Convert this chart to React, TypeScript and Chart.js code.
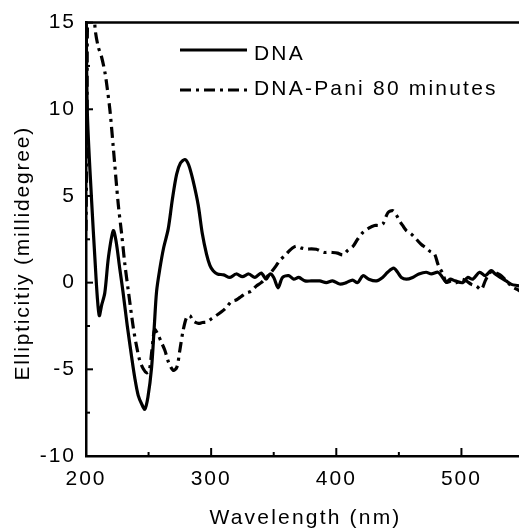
import React, { useEffect, useRef } from "react";
import { Chart, registerables } from "chart.js";

Chart.register(...registerables);

const seriesNames = ["DNA", "DNA-Pani 80 minutes"];

const dnaWavelength = [
  200, 201, 204.5, 207.2, 209, 210.6, 212.5, 215, 218, 221.8, 224, 227, 229.5, 233, 236.5, 239, 241.7, 244.5,
  247, 249.5, 252.4, 254.5, 256.4, 259, 262, 265.7, 269, 272.4, 275.5, 279, 282, 285.5, 289.6, 293, 296.3, 299,
  301.6, 305, 310, 315, 320, 325, 330, 335, 340, 344, 347, 350, 353.5, 357, 362, 366, 370, 375, 380, 386.7, 392,
  397, 402.7, 408, 413, 417, 421.3, 426, 432, 437, 441, 445.8, 449, 452, 456, 461, 466, 471.8, 476, 481.2, 484,
  487.9, 491, 495, 501, 505, 509, 514.5, 519, 523.8, 527, 531, 535.7, 540, 545, 547,
];
const dnaEllipticity = [
  18, 10, 4.7, 1.3, -0.8, -1.9, -1.3, -0.6, 1.5, 3.0, 2.4, 0.8, -0.5, -2.5, -4.3, -5.5, -6.5, -7.0,
  -7.3, -6.6, -4.9, -2.6, -0.5, 0.8, 2.0, 3.1, 4.8, 6.25, 6.9, 7.1, 6.8, 5.9, 4.5, 2.8, 1.65, 1.0,
  0.69, 0.5, 0.45, 0.3, 0.5, 0.35, 0.5, 0.3, 0.55, 0.2, 0.5, 0.3, -0.3, 0.3, 0.4, 0.2, 0.3, 0.1, 0.1, 0.1, 0.0,
  0.1, -0.08, 0.0, 0.15, 0.0, 0.4, 0.2, 0.1, 0.3, 0.6, 0.84, 0.6, 0.3, 0.2, 0.3, 0.5, 0.6, 0.5, 0.6, 0.4,
  0.02, 0.2, 0.1, 0.0, 0.3, 0.2, 0.6, 0.4, 0.69, 0.5, 0.3, 0.1, -0.1, -0.17, -0.2,
];

const paniWavelength = [
  200, 200.8, 201.5, 204, 206.5, 207.5, 209.8, 212.5, 215.2, 217, 219.2, 221.8, 225.8, 228.5, 231, 233.8, 237.8,
  240.5, 243, 246, 248.4, 250.5, 252.5, 254, 255, 257.5, 260, 263, 266, 269.7, 272.5, 275, 277.5, 280.4, 283,
  285.6, 290, 293, 296.3, 300, 304, 308, 312, 316, 320, 324, 328, 332, 336, 340, 344, 348, 352, 355, 358.8, 362,
  365, 368, 372, 376, 380, 384, 388, 390.7, 394, 397, 401, 405.4, 409, 413.4, 417, 421.3, 426, 430.6, 434, 437.3,
  441.3, 445.3, 448, 450.6, 453, 456, 460, 464, 468, 471.8, 475, 478.5, 481.2, 483, 485.2, 487.9, 492, 496, 500,
  503.8, 508, 512, 515.8, 519, 522, 525, 528, 531.8, 536, 541, 545, 547,
];
const paniEllipticity = [
  3, 9, 16, 17, 15.5, 14.5, 13.6, 13.0, 12.1, 11.2, 9.9, 7.8, 4.5, 2.8, 1.1, -0.46, -2.6,
  -3.7, -4.5, -5.0, -5.2, -5.1, -4.0, -3.0, -2.7, -3.0, -3.4, -3.9, -4.6, -5.06, -4.9, -3.9, -2.8, -2.0, -1.9,
  -2.2, -2.35, -2.3, -2.28, -2.1, -1.9, -1.7, -1.45, -1.1, -1.0, -0.8, -0.6, -0.5, -0.2, 0.0, 0.3, 0.6, 0.98, 1.3, 1.55, 1.8,
  2.0, 2.1, 2.0, 1.93, 1.95, 1.93, 1.8, 1.74, 1.75, 1.74, 1.7, 1.6, 1.85, 2.1, 2.5, 2.9, 3.15, 3.3, 3.3, 3.4,
  4.04, 4.15, 3.9, 3.56, 3.3, 3.0, 2.8, 2.5, 2.2, 2.0, 1.8, 1.65, 1.07, 0.8, 0.5, 0.02, 0.1, 0.0, 0.2,
  0.1, -0.1, -0.2, -0.4, 0.1, 0.5, 0.69, 0.55, 0.4, 0.1, -0.27, -0.4, -0.5,
];

const xMin = 200;
const xMax = 546;
const yMin = -10;
const yMax = 15;
const xLabelStep = 100;
const yLabelStep = 5;

const FONT = "'Liberation Sans', Arial, Helvetica, sans-serif";
const PANI_DASH = [11, 5, 3, 5];

const toPoints = (xs: number[], ys: number[]) => xs.map((x, i) => ({ x, y: ys[i] }));

function wrap(scale: any, method: string, spacing: string, dx: number, dy: number) {
  const orig = scale[method];
  if (!orig || orig.__wrapped) return;
  const fn = function (this: any, ...args: any[]) {
    const ctx = this.ctx;
    ctx.save();
    ctx.letterSpacing = spacing;
    ctx.translate(dx, dy);
    const r = orig.apply(this, args);
    ctx.restore();
    return r;
  };
  (fn as any).__wrapped = true;
  scale[method] = fn;
}

const framePlugin = {
  id: "frame",
  beforeDraw(chart: any) {
    const xs = chart.scales.x;
    const ys = chart.scales.y;
    wrap(xs, "drawLabels", "2px", 0, 0);
    wrap(ys, "drawLabels", "2px", 0, 0);
    wrap(xs, "drawTitle", "2.2px", 3, 3);
    wrap(ys, "drawTitle", "1.8px", 0, 14);
  },
  afterDraw(chart: any) {
    const ctx = chart.ctx;
    const { left, right, top, bottom } = chart.chartArea;
    const xs = chart.scales.x;
    const ys = chart.scales.y;
    ctx.save();
    ctx.strokeStyle = "#000";
    ctx.lineWidth = 2.5;
    ctx.beginPath();
    ctx.moveTo(left - 1, top);
    ctx.lineTo(right, top);
    ctx.stroke();
    ctx.lineWidth = 2;
    xs.ticks.forEach((t: any) => {
      const px = xs.getPixelForValue(t.value);
      const len = t.value % xLabelStep === 0 ? 8 : 4;
      ctx.beginPath();
      ctx.moveTo(px, bottom);
      ctx.lineTo(px, bottom - len);
      ctx.stroke();
    });
    ys.ticks.forEach((t: any) => {
      const py = ys.getPixelForValue(t.value);
      const len = t.value % yLabelStep === 0 ? 7 : 4;
      ctx.beginPath();
      ctx.moveTo(left, py);
      ctx.lineTo(left + len, py);
      ctx.stroke();
    });

    // legend
    const items = [
      { dash: [] as number[], lineY: 50, textY: 60 },
      { dash: PANI_DASH, lineY: 90, textY: 95 },
    ];
    ctx.letterSpacing = "2.2px";
    ctx.font = `21px ${FONT}`;
    ctx.fillStyle = "#000";
    ctx.textBaseline = "alphabetic";
    ctx.textAlign = "left";
    items.forEach((it, i) => {
      ctx.lineWidth = 3.2;
      ctx.setLineDash(it.dash);
      ctx.beginPath();
      ctx.moveTo(180, it.lineY);
      ctx.lineTo(247, it.lineY);
      ctx.stroke();
      ctx.setLineDash([]);
      ctx.fillText(seriesNames[i], 254, it.textY);
    });
    ctx.restore();
  },
};

export default function App() {
  const ref = useRef<HTMLCanvasElement | null>(null);

  useEffect(() => {
    document.body.style.margin = "0";
    const canvas = ref.current;
    if (!canvas) return;
    const chart = new Chart(canvas, {
      type: "line",
      data: {
        datasets: [
          {
            label: seriesNames[0],
            data: toPoints(dnaWavelength, dnaEllipticity),
            borderColor: "#000",
            borderWidth: 3.2,
            pointRadius: 0,
            tension: 0.3,
            fill: false,
          },
          {
            label: seriesNames[1],
            data: toPoints(paniWavelength, paniEllipticity),
            borderColor: "#000",
            borderWidth: 3.2,
            borderDash: PANI_DASH,
            pointRadius: 0,
            tension: 0.3,
            fill: false,
          },
        ],
      },
      options: {
        animation: false,
        responsive: false,
        devicePixelRatio: 1,
        layout: { padding: { top: 21, left: 0, right: 0, bottom: 0 } },
        plugins: { legend: { display: false }, tooltip: { enabled: false } },
        scales: {
          x: {
            type: "linear",
            min: xMin,
            max: xMax,
            grid: { display: false, drawTicks: false },
            border: { display: true, color: "#000", width: 2.5 },
            ticks: {
              stepSize: 50,
              includeBounds: false,
              autoSkip: false,
              maxRotation: 0,
              padding: 11,
              color: "#000",
              font: { family: FONT, size: 21 },
              callback: (v: any) => (Number(v) % xLabelStep === 0 ? String(v) : ""),
            },
            title: {
              display: true,
              text: "Wavelength (nm)",
              color: "#000",
              font: { family: FONT, size: 21 },
              padding: { top: 0, bottom: 2 },
            },
            afterFit: (s: any) => {
              s.height = 74;
            },
          },
          y: {
            type: "linear",
            min: yMin,
            max: yMax,
            grid: { display: false, drawTicks: false },
            border: { display: true, color: "#000", width: 2.5 },
            ticks: {
              stepSize: 2.5,
              autoSkip: false,
              padding: 10,
              color: "#000",
              font: { family: FONT, size: 21 },
              callback: (v: any) => (Number(v) % yLabelStep === 0 ? String(v) : ""),
            },
            title: {
              display: true,
              text: "Ellipticitiy (millidegree)",
              color: "#000",
              font: { family: FONT, size: 21 },
              padding: { top: 11, bottom: 0 },
            },
            afterFit: (s: any) => {
              s.width = 86;
            },
          },
        },
      },
      plugins: [framePlugin],
    });
    return () => chart.destroy();
  }, []);

  return (
    <div style={{ position: "fixed", left: 0, top: 0, width: 519, height: 530, background: "#fff" }}>
      <canvas ref={ref} width={519} height={530} />
    </div>
  );
}
